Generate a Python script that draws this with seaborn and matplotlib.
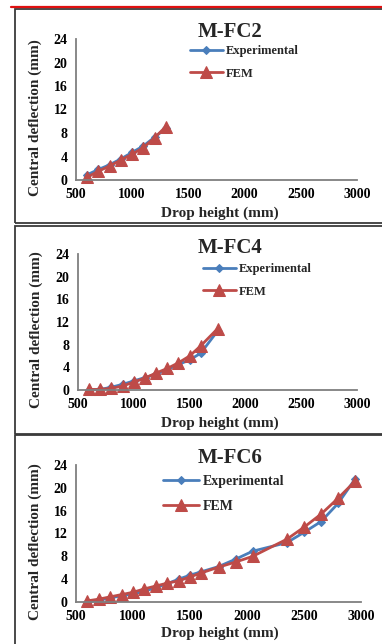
import matplotlib
matplotlib.use("Agg")
import matplotlib.pyplot as plt
import seaborn as sns
import pandas as pd
from matplotlib.patches import Rectangle
from matplotlib.lines import Line2D

# ---------------- data ----------------
titles = ["M-FC2", "M-FC4", "M-FC6"]
series_names = ["Experimental", "FEM"]

fc2_height = [600, 700, 800, 900, 1000, 1100, 1200, 1300]
fc2_exp = [0.9, 1.8, 2.6, 3.6, 4.7, 5.8, 7.3, 8.8]
fc2_fem = [0.5, 1.5, 2.4, 3.4, 4.4, 5.5, 7.2, 9.1]

fc4_height = [600, 700, 800, 900, 1000, 1100, 1200, 1300, 1400, 1500, 1600, 1750]
fc4_exp = [0.0, 0.1, 0.5, 1.0, 1.6, 2.2, 2.8, 3.6, 4.5, 5.3, 6.5, 10.4]
fc4_fem = [0.1, 0.1, 0.3, 0.7, 1.4, 2.1, 3.0, 3.8, 4.8, 6.0, 7.8, 10.8]

fc6_height = [600, 700, 800, 900, 1000, 1100, 1200, 1300, 1400, 1500, 1600,
              1750, 1900, 2050, 2350, 2500, 2650, 2800, 2950]
fc6_exp = [0.0, 0.3, 0.7, 1.1, 1.4, 1.9, 2.5, 3.2, 4.0, 4.7, 5.3,
           6.2, 7.5, 8.9, 10.4, 12.2, 14.1, 17.3, 21.6]
fc6_fem = [0.2, 0.5, 0.9, 1.3, 1.7, 2.3, 2.8, 3.3, 3.7, 4.4, 5.1,
           6.1, 7.0, 8.0, 11.0, 13.1, 15.4, 18.2, 21.2]

x_ticks = [500, 1000, 1500, 2000, 2500, 3000]
y_ticks = [0, 4, 8, 12, 16, 20, 24]
x_label = "Drop height (mm)"
y_label = "Central deflection (mm)"

# ---------------- style ----------------
W, H = 382, 644
sns.set_theme(style="white")
plt.rcParams["font.family"] = ["Liberation Serif", "DejaVu Serif"]
plt.rcParams["font.weight"] = "bold"

BLUE = "#4A7EBB"
RED = "#BE4B48"
SPINE = "#7f7f7f"
FRAME = "#3a3a3a"

fig = plt.figure(figsize=(W / 100, H / 100), dpi=100)
fig.patch.set_facecolor("white")


def fx(px):
    return px / W


def fy(py):
    return 1 - py / H


# panel geometry in pixels
panels = [
    dict(h=fc2_height, e=fc2_exp, f=fc2_fem, left=76, right=357, top=39, bottom=180,
         title_y=32, xlab_y=213, leg_x=190, leg_y=45, leg_fs=9, ylab_x=35),
    dict(h=fc4_height, e=fc4_exp, f=fc4_fem, left=78, right=357, top=254, bottom=390,
         title_y=248, xlab_y=423, leg_x=203, leg_y=263, leg_fs=9, ylab_x=36),
    dict(h=fc6_height, e=fc6_exp, f=fc6_fem, left=76, right=361, top=465, bottom=602,
         title_y=458, xlab_y=633, leg_x=163, leg_y=475, leg_fs=10, ylab_x=35),
]

frames = [(9, 223), (226, 434), (435, 660)]

# red line at the top
fig.add_artist(Line2D([fx(11), fx(390)], [fy(7), fy(7)], color="#e01010", lw=1.6,
                      transform=fig.transFigure))
for (t, b) in frames:
    fig.add_artist(Rectangle((fx(15), fy(b)), fx(400) - fx(15), fy(t) - fy(b),
                             transform=fig.transFigure, fill=False,
                             edgecolor=FRAME, lw=1.3))

for i, p in enumerate(panels):
    ax = fig.add_axes([fx(p["left"]), fy(p["bottom"]),
                       fx(p["right"]) - fx(p["left"]), fy(p["top"]) - fy(p["bottom"])])
    df = pd.DataFrame({"height": p["h"], "exp": p["e"], "fem": p["f"]})
    sns.lineplot(data=df, x="height", y="exp", ax=ax, color=BLUE, lw=2.0,
                 marker="D", markersize=4.5, markeredgecolor=BLUE,
                 markerfacecolor=BLUE, label=series_names[0], sort=False)
    sns.lineplot(data=df, x="height", y="fem", ax=ax, color=RED, lw=2.0,
                 marker="^", markersize=8, markeredgecolor=RED,
                 markerfacecolor=RED, label=series_names[1], sort=False)
    ax.set_xlim(500, 3000)
    ax.set_ylim(0, 24)
    ax.set_xticks(x_ticks)
    ax.set_yticks(y_ticks)
    ax.set_xticklabels([str(v) for v in x_ticks], fontsize=10, fontweight="bold")
    ax.set_yticklabels([str(v) for v in y_ticks], fontsize=10, fontweight="bold")
    ax.tick_params(axis="both", length=0, pad=6, colors="black")
    ax.set_xlabel("")
    ax.set_ylabel("")
    for s in ["top", "right"]:
        ax.spines[s].set_visible(False)
    for s in ["left", "bottom"]:
        ax.spines[s].set_color(SPINE)
        ax.spines[s].set_linewidth(1.3)
    ax.patch.set_alpha(0)
    for ln in ax.lines:
        ln.set_clip_on(False)

    handles, labels = ax.get_legend_handles_labels()
    leg = ax.legend(handles, labels, loc="upper left",
                    bbox_to_anchor=(fx(p["leg_x"]), fy(p["leg_y"])),
                    bbox_transform=fig.transFigure, frameon=False,
                    fontsize=p["leg_fs"], handlelength=2.6, handletextpad=0.3,
                    labelspacing=0.85, borderpad=0, borderaxespad=0, numpoints=1)
    for txt in leg.get_texts():
        txt.set_fontweight("bold")

    fig.text(fx(230), fy(p["title_y"]), titles[i], ha="center", va="center",
             fontsize=15, fontweight="bold")
    fig.text(fx(220), fy(p["xlab_y"]), x_label, ha="center", va="center",
             fontsize=11, fontweight="bold")
    fig.text(fx(p["ylab_x"]), fy((p["top"] + p["bottom"]) / 2 + 8), y_label,
             ha="center", va="center", rotation=90, fontsize=11, fontweight="bold")

fig.savefig("out.png", dpi=100, facecolor="white")
